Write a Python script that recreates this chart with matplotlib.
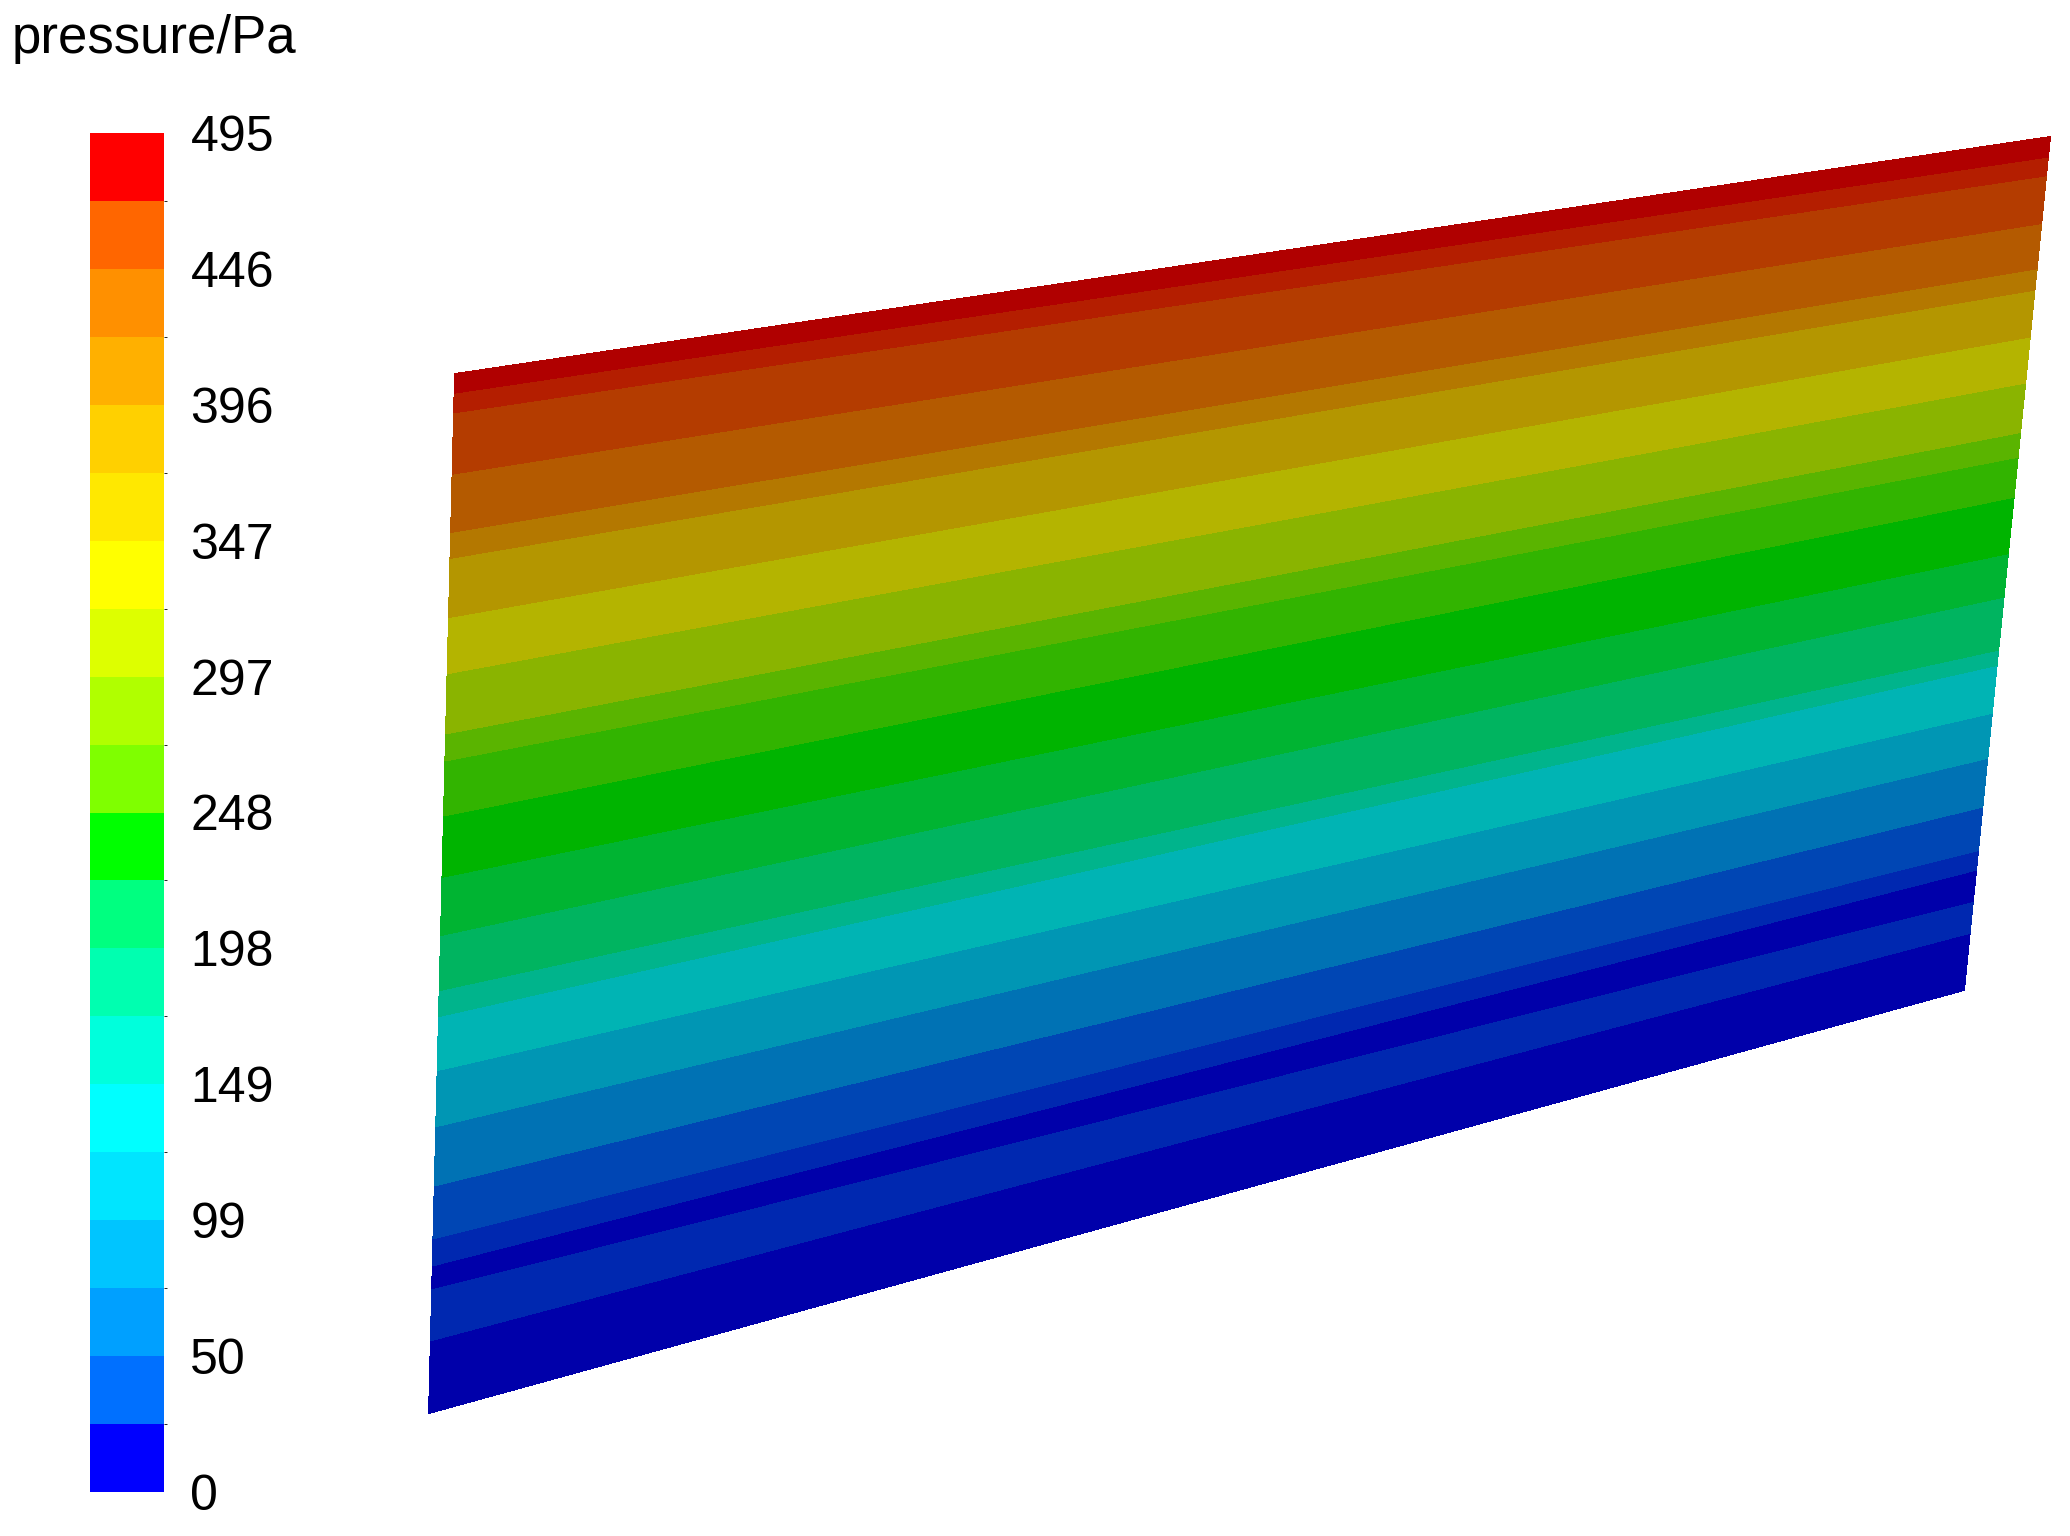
import numpy as np
import matplotlib.pyplot as plt
from matplotlib.colors import ListedColormap, BoundaryNorm
from matplotlib.cm import ScalarMappable

plt.rcParams['font.family'] = ['Liberation Sans', 'DejaVu Sans']

W, H = 2070, 1536

# pressure scale
p_min, p_max, n_bands = 0, 495, 20
tick_labels = ['0', '50', '99', '149', '198', '248', '297', '347', '396', '446', '495']

# legend colours, low -> high
bar_colors = ['#0000FF', '#0070FF', '#00A0FF', '#00C5FF', '#00E5FF',
              '#00FFFF', '#00FFDC', '#00FFB0', '#00FF80', '#00FF00',
              '#7FFF00', '#B0FF00', '#DDFF00', '#FFFF00', '#FFE800',
              '#FFD000', '#FFB000', '#FF9000', '#FF6600', '#FF0000']

# same bands as they look on the lit surface, low -> high
surf_colors = ['#0000AA', '#0028B0', '#0046B4', '#0072B4', '#0096B4',
               '#00B4B4', '#00B48C', '#00B460', '#00B432', '#00B400',
               '#32B400', '#5AB400', '#8AB400', '#B4B400', '#B49600',
               '#B47800', '#B45A00', '#B43C00', '#B41E00', '#B00000']

# pressure (Pa) along rows of the plate, and height of each row on the plate
# (0 = bottom edge, 1 = top edge) at the left and right edges
row_p = [10, 24.75, 30, 24.75, 20, 24.75, 49.5, 74.25, 99, 123.75, 148.5,
         173.25, 198, 222.75, 247.5, 272.25, 297, 321.75, 346.5, 371.25,
         396, 420.75, 445.5, 470.25, 490]
v_left = [0.0, 0.070, 0.094, 0.118, 0.130, 0.142, 0.168, 0.219, 0.276,
          0.330, 0.382, 0.407, 0.460, 0.516, 0.575, 0.628, 0.654, 0.712,
          0.766, 0.823, 0.848, 0.904, 0.963, 0.982, 1.0]
v_right = [0.0, 0.067, 0.085, 0.102, 0.121, 0.141, 0.164, 0.215, 0.272,
           0.325, 0.381, 0.399, 0.461, 0.512, 0.578, 0.625, 0.654, 0.712,
           0.766, 0.821, 0.846, 0.899, 0.955, 0.977, 1.0]

# view of the plate on screen (pixel corners)
bl, br, tl, tr = (429, 1413), (1964, 990), (455, 374), (2050, 137)

fig = plt.figure(figsize=(W / 100, H / 100), dpi=100)
ax = fig.add_axes([0, 0, 1, 1])
ax.set_xlim(0, W)
ax.set_ylim(H, 0)
ax.axis('off')

levels = np.linspace(p_min, p_max, n_bands + 1)

V = np.column_stack([v_left, v_right])
U = np.zeros_like(V)
U[:, 1] = 1.0
X = (1 - U) * (1 - V) * bl[0] + U * (1 - V) * br[0] + (1 - U) * V * tl[0] + U * V * tr[0]
Y = (1 - U) * (1 - V) * bl[1] + U * (1 - V) * br[1] + (1 - U) * V * tl[1] + U * V * tr[1]
Z = np.repeat(np.array(row_p)[:, None], 2, axis=1)

cs = ax.contourf(X, Y, Z, levels=levels, colors=surf_colors)
cs.set_edgecolor('face')
cs.set_linewidth(0.6)

ax.text(12, 53, 'pressure/Pa', fontsize=38, ha='left', va='baseline')

# colour bar
cax = fig.add_axes([90 / W, 1 - 1492 / H, 74 / W, 1359 / H])
sm = ScalarMappable(norm=BoundaryNorm(levels, n_bands), cmap=ListedColormap(bar_colors))
cb = fig.colorbar(sm, cax=cax, ticks=levels[::2])
cb.outline.set_visible(False)
cb.ax.set_yticklabels(tick_labels)
cb.ax.tick_params(length=0, pad=19, labelsize=36)

fig.savefig('out.png', dpi=100)
